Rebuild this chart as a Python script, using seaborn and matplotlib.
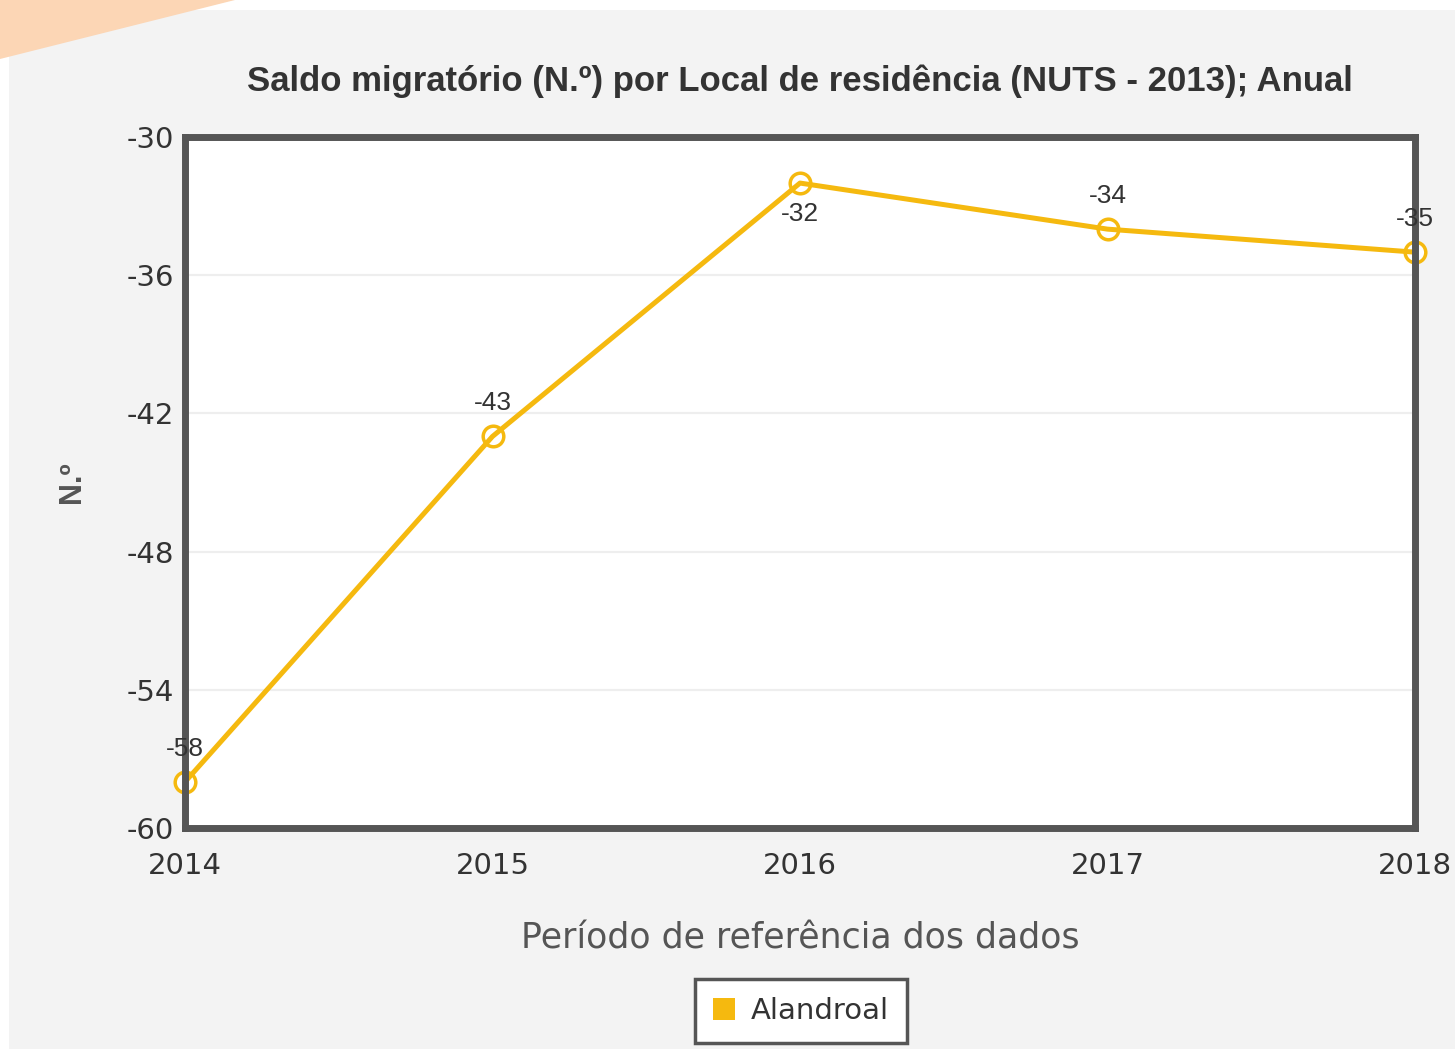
import pandas as pd
import seaborn as sns
import matplotlib.pyplot as plt
from matplotlib.patches import Rectangle, Polygon, Patch

# Data
years = [2014, 2015, 2016, 2017, 2018]
saldo = [-58, -43, -32, -34, -35]
label_above = [True, True, False, True, True]
y_ticks = [-60, -54, -48, -42, -36, -30]
serie = 'Alandroal'

df = pd.DataFrame({'ano': years, 'saldo': saldo})

sns.set_style('white')
plt.rcParams['font.family'] = ['DejaVu Sans']
plt.rcParams['axes.unicode_minus'] = False

amarelo = '#F5B90F'
cinza = '#555555'

fig = plt.figure(figsize=(14.55, 10.49), dpi=100)
fig.patch.set_facecolor('white')

# gray panel and orange corner (behind the axes)
fig.patches.append(Rectangle((9 / 1455, 0), 1, 1 - 10 / 1049, transform=fig.transFigure,
                             facecolor='#f3f3f3', edgecolor='none', zorder=-2))
fig.patches.append(Polygon([(0, 1), (235 / 1455, 1), (0, 1 - 59 / 1049)], closed=True,
                           transform=fig.transFigure, facecolor='#FCD6B5',
                           edgecolor='none', zorder=-1))

ax = fig.add_axes([185 / 1455, 1 - 828 / 1049, (1415 - 185) / 1455, (828 - 137) / 1049])
ax.set_facecolor('white')

# markers under the line, like the original
sns.scatterplot(data=df, x='ano', y='saldo', ax=ax, s=220, color='white',
                edgecolor=amarelo, linewidth=2.5, zorder=3, clip_on=False, legend=False)
sns.lineplot(data=df, x='ano', y='saldo', ax=ax, color=amarelo, linewidth=3.6,
             zorder=4, clip_on=False, legend=False)

# value labels
for x, v, up in zip(years, saldo, label_above):
    ax.annotate(str(v), (x, v), xytext=(0, 24 if up else -22), textcoords='offset points',
                ha='center', va='center', fontsize=19, color='#333333',
                family='Liberation Sans', zorder=6, annotation_clip=False)

ax.set_xlim(2014, 2018)
ax.set_ylim(-60, -30)
ax.set_yticks(y_ticks)
ax.set_xticks(years)
ax.set_xticklabels([str(y) for y in years])
ax.yaxis.grid(True, color='#eeeeee', linewidth=1.6)
ax.set_axisbelow(True)
ax.tick_params(axis='both', length=0, labelsize=21, labelcolor='#333333')
ax.tick_params(axis='y', pad=8)
ax.tick_params(axis='x', pad=17)

for s in ax.spines.values():
    s.set_color(cinza)
    s.set_linewidth(5)
    s.set_zorder(5)

ax.set_xlabel('Período de referência dos dados', fontsize=25, color=cinza, labelpad=30)
ax.set_ylabel('N.º', fontsize=22, color=cinza, fontweight='bold',
              family='Liberation Sans', labelpad=28)
ax.set_title('Saldo migratório (N.º) por Local de residência (NUTS - 2013); Anual',
             fontsize=25, fontweight='bold', color='#333333', family='Liberation Sans', pad=33)

handle = Patch(facecolor=amarelo, edgecolor='none', label=serie)
leg = fig.legend(handles=[handle], loc='center', bbox_to_anchor=(801 / 1455, 1 - 1011 / 1049),
                 fontsize=21, frameon=True, fancybox=False, framealpha=1, handlelength=0.75,
                 handleheight=0.75, handletextpad=0.55, borderpad=0.62)
leg.get_frame().set_edgecolor(cinza)
leg.get_frame().set_linewidth(2.5)
leg.get_frame().set_facecolor('white')
for t in leg.get_texts():
    t.set_color('#333333')

fig.savefig('out.png', dpi=100)
